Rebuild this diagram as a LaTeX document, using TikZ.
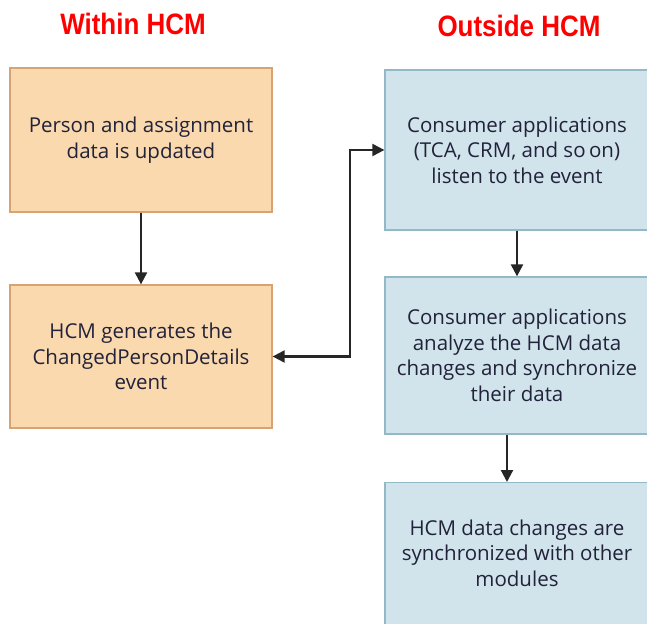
\documentclass[tikz,border=0pt]{standalone}
\usepackage{fontspec}
\setmainfont{Open Sans}
\newfontfamily\titlefont[FakeStretch=0.88]{Liberation Sans}
\usetikzlibrary{arrows.meta}
\definecolor{orfill}{HTML}{F9D9AD}
\definecolor{ordraw}{HTML}{D8A273}
\definecolor{blfill}{HTML}{D1E4EC}
\definecolor{bldraw}{HTML}{93B9C9}
\definecolor{txt}{HTML}{22223A}
\tikzset{
  x=1pt, y=-1pt,
  box/.style={draw, line width=1.3pt, rectangle, align=center, inner sep=0pt,
    text=txt, font=\fontsize{20.5}{25.5}\selectfont},
  orbox/.style={box, fill=orfill, draw=ordraw, minimum width=262pt},
  blbox/.style={box, fill=blfill, draw=bldraw, minimum width=264pt},
  ttl/.style={text=red, font=\titlefont\bfseries\fontsize{29.5}{32}\selectfont, anchor=base, inner sep=0pt},
  conn/.style={draw=black!85, line width=2.2pt, -{Triangle[length=12pt,width=12pt]}},
  conn2/.style={draw=black!85, line width=2.2pt, {Triangle[length=12pt,width=12pt]}-{Triangle[length=12pt,width=12pt]}}
}
\begin{document}
\begin{tikzpicture}
\useasboundingbox (0,0) rectangle (647,623);
\clip (0,0) rectangle (647,623);
\fill[white] (0,0) rectangle (647,623);
\node[ttl] (t1) at (133,35) {Within HCM};
\node[ttl] (t2) at (519,37) {Outside HCM};
\node[orbox, minimum height=144pt] (l1) at (141,140) {Person and assignment\\data is updated};
\node[orbox, minimum height=143pt] (l2) at (141,356.5) {HCM generates\ the\\ChangedPersonDetails\\event};
\node[blbox, minimum height=160pt] (r1) at (517,150) {Consumer applications\\(TCA, CRM, and so\,on)\\listen to the event};
\node[blbox, minimum height=157pt] (r2) at (517,355.5) {Consumer applications\\analyze the HCM data\\changes and synchronize\\their data};
\node[blbox, minimum height=146pt, anchor=north] (r3) at (517,482) {\raisebox{3pt}{\begin{tabular}{@{}c@{}}HCM data changes are\\synchronized with other\\modules\end{tabular}}};
\draw[conn] (l1.south) -- (l2.north);
\draw[conn] (r1.south) -- (r2.north);
\draw[conn] ([xshift=-10pt]r2.south) -- ([xshift=-10pt]r3.north);
\draw[conn2] (l2.east) -- ++(77,0) |- (r1.west);
\end{tikzpicture}
\end{document}
